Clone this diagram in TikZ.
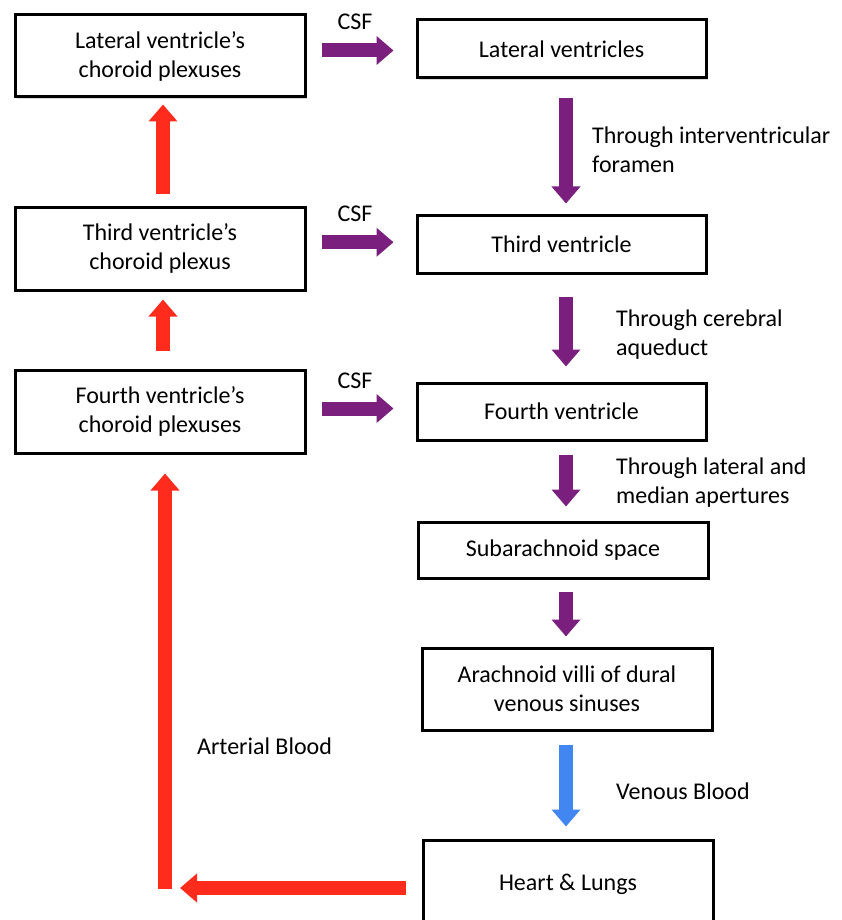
\documentclass[tikz,border=0pt]{standalone}
\usepackage{fontspec}
\setmainfont{Carlito}
\usetikzlibrary{arrows.meta,calc,shadows}
\definecolor{csfpurple}{HTML}{7A1F7E}
\definecolor{artred}{HTML}{FF2B1C}
\definecolor{venblue}{HTML}{4286F2}
\tikzset{
  box/.style={draw=black, line width=3pt, fill=white, align=center, inner sep=0pt,
    font=\fontsize{24}{29}\selectfont,
    drop shadow={opacity=0.3, shadow xshift=2pt, shadow yshift=-2pt}},
  lbl/.style={anchor=west, align=left, inner sep=0pt, font=\fontsize{24}{29}\selectfont},
  fat/.style={line width=14pt, -{Triangle[width=28pt,length=17pt]}},
  csf/.style={fat, draw=csfpurple, fill=csfpurple},
  art/.style={fat, draw=artred, fill=artred},
  ven/.style={fat, draw=venblue, fill=venblue}
}
\begin{document}
\begin{tikzpicture}[x=1pt,y=-1pt]
\useasboundingbox (0,0) rectangle (841,920);
% left column
\node[box, minimum width=290pt, minimum height=82pt] (l1) at (160,56) {Lateral ventricle’s\\choroid plexuses};
\node[box, minimum width=290pt, minimum height=83pt] (l2) at (160,248.5) {Third ventricle’s\\choroid plexus};
\node[box, minimum width=290pt, minimum height=83pt] (l3) at (160,411.5) {Fourth ventricle’s\\choroid plexuses};
% right column
\node[box, minimum width=289pt, minimum height=58pt] (r1) at (561.5,49) {Lateral ventricles};
\node[box, minimum width=289pt, minimum height=58pt] (r2) at (561.5,244) {Third ventricle};
\node[box, minimum width=289pt, minimum height=57pt] (r3) at (561.5,411.5) {Fourth ventricle};
\node[box, minimum width=290pt, minimum height=56pt] (sub) at (563,550) {Subarachnoid space};
\node[box, minimum width=290pt, minimum height=82pt] (vil) at (567,689) {Arachnoid villi of dural\\venous sinuses};
\node[box, minimum width=290pt, minimum height=88pt] (hl) at (568,884) {Heart \& Lungs};
% CSF horizontal arrows
\foreach \a/\b/\dy in {l1/r1/-2, l2/r2/-4, l3/r3/-3}{
  \coordinate (m\a) at ($(\a.east)!0.5!(\b.west)+(0,\dy)$);
  \draw[csf, shorten <=15pt, shorten >=22pt] (\a.east |- m\a) -- (\b.west |- m\a);
}
\node[lbl, anchor=center] (c1) at (355,22) {CSF};
\node[lbl, anchor=center] (c2) at (355,214) {CSF};
\node[lbl, anchor=center] (c3) at (355,381) {CSF};
% vertical purple arrows
\draw[csf, shorten <=19pt, shorten >=10pt] ([xshift=4.5pt]r1.south) -- ([xshift=4.5pt]r2.north);
\draw[csf, shorten <=22pt, shorten >=15pt] ([xshift=4.5pt]r2.south) -- ([xshift=4.5pt]r3.north);
\draw[csf, shorten <=13pt, shorten >=14pt] ([xshift=4.5pt]r3.south) -- ([xshift=3pt]sub.north);
\draw[csf, shorten <=12pt, shorten >=10pt] ([xshift=3pt]sub.south) -- ([xshift=-1pt]vil.north);
\draw[ven, shorten <=13pt, shorten >=12pt] ([xshift=-1pt]vil.south) -- ([xshift=-2pt]hl.north);
% labels on right
\node[lbl] (t1) at (592,150) {Through interventricular\\foramen};
\node[lbl] (t2) at (616,334.5) {Through cerebral\\aqueduct};
\node[lbl] (t3) at (616,483) {Through lateral and\\median apertures};
\node[lbl] (t4) at (616,791) {Venous Blood};
\node[lbl] (t5) at (197,746) {Arterial Blood};
% red arrows
\draw[art, shorten <=12pt, shorten >=6pt] ([xshift=3pt]l2.north) -- ([xshift=3pt]l1.south);
\draw[art, shorten <=18pt, shorten >=8pt] ([xshift=3pt]l3.north) -- ([xshift=3pt]l2.south);
\coordinate (corner) at (165,888);
\draw[art, shorten <=16pt, shorten >=15pt] (hl.west |- corner) -- (corner);
\draw[art, shorten <=-1pt, shorten >=19pt] (corner) -- (corner |- l3.south);
\end{tikzpicture}
\end{document}
